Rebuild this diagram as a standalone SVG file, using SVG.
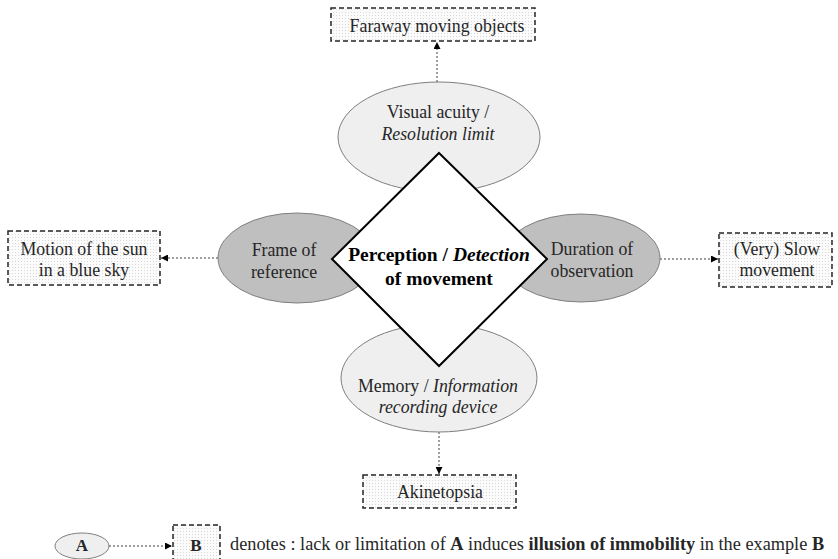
<svg xmlns="http://www.w3.org/2000/svg" width="838" height="559" viewBox="0 0 838 559" font-family="'Liberation Serif', 'Times New Roman', serif">
<defs>
<pattern id="dots" width="3" height="3" patternUnits="userSpaceOnUse">
<rect width="3" height="3" fill="#fbfbfb"/>
<rect width="1" height="1" fill="#d8d8d8"/>
</pattern>
<marker id="ah" viewBox="0 0 10 10" refX="10" refY="5" markerWidth="7" markerHeight="7" markerUnits="userSpaceOnUse" orient="auto">
<path d="M0,0 L10,5 L0,10 z" fill="#000"/>
</marker>
<style>
text{font-family:'Liberation Serif','Times New Roman',serif;fill:#262626;}
.t{font-size:17.8px;text-anchor:middle;}
.light{fill:#efefef;stroke:#7f7f7f;stroke-width:1;}
.dark{fill:#bfbfbf;stroke:#7f7f7f;stroke-width:1;}
.box{fill:url(#dots);stroke:#262626;stroke-width:1.5;stroke-dasharray:5,3;}
.con{stroke:#404040;stroke-width:1;stroke-dasharray:2,2;fill:none;marker-end:url(#ah);}
.ctr{font-size:19.5px;font-weight:bold;text-anchor:middle;fill:#000;}
</style>
</defs>
<rect width="838" height="559" fill="#fff"/>

<g id="connectors">
<line class="con" x1="437" y1="82" x2="437" y2="42"/>
<line class="con" x1="218" y1="258" x2="161" y2="258"/>
<line class="con" x1="660" y1="259" x2="718" y2="259"/>
<line class="con" x1="439" y1="432" x2="439" y2="474"/>
<line class="con" x1="109" y1="546" x2="172" y2="546"/>
</g>

<g id="visual-acuity">
<ellipse class="light" cx="439" cy="137" rx="101" ry="55"/>
<text class="t" x="438" y="118">Visual acuity /</text>
<text class="t" x="438" y="140" font-style="italic">Resolution limit</text>
</g>

<g id="frame-of-reference">
<ellipse class="dark" cx="297" cy="258" rx="79" ry="45"/>
<text class="t" x="284" y="256">Frame of</text>
<text class="t" x="284" y="278">reference</text>
</g>

<g id="duration">
<ellipse class="dark" cx="581" cy="258" rx="79" ry="44"/>
<text class="t" x="592" y="255">Duration of</text>
<text class="t" x="592" y="277">observation</text>
</g>

<g id="memory">
<ellipse class="light" cx="439" cy="378" rx="98" ry="54"/>
<text class="t" x="438" y="392">Memory / <tspan font-style="italic">Information</tspan></text>
<text class="t" x="438" y="413" font-style="italic">recording device</text>
</g>

<g id="perception">
<polygon points="439,153 547,259 439,366 332,259" fill="#fff" stroke="#000" stroke-width="2"/>
<text class="ctr" x="439" y="261">Perception / <tspan font-style="italic">Detection</tspan></text>
<text class="ctr" x="439" y="285">of movement</text>
</g>

<g id="faraway">
<rect class="box" x="331" y="8" width="204" height="33"/>
<text class="t" x="437" y="32">Faraway moving objects</text>
</g>

<g id="sun">
<rect class="box" x="8" y="231" width="152" height="54"/>
<text class="t" x="84" y="255">Motion of the sun</text>
<text class="t" x="84" y="276">in a blue sky</text>
</g>

<g id="slow">
<rect class="box" x="719" y="233" width="113" height="54"/>
<text class="t" x="777" y="255">(Very) Slow</text>
<text class="t" x="777" y="276">movement</text>
</g>

<g id="akinetopsia">
<rect class="box" x="363" y="475" width="153" height="33"/>
<text class="t" x="440" y="498">Akinetopsia</text>
</g>

<g id="legend">
<ellipse class="light" cx="82" cy="546" rx="27" ry="13"/>
<text x="82" y="551" font-size="17" font-weight="bold" text-anchor="middle">A</text>
<rect class="box" x="173" y="525" width="47" height="40"/>
<text x="196" y="551" font-size="17" font-weight="bold" text-anchor="middle">B</text>
<text x="230" y="550" font-size="18.3">denotes : lack or limitation of <tspan font-weight="bold">A</tspan> induces <tspan font-weight="bold">illusion of immobility</tspan> in the example <tspan font-weight="bold">B</tspan></text>
</g>
</svg>
